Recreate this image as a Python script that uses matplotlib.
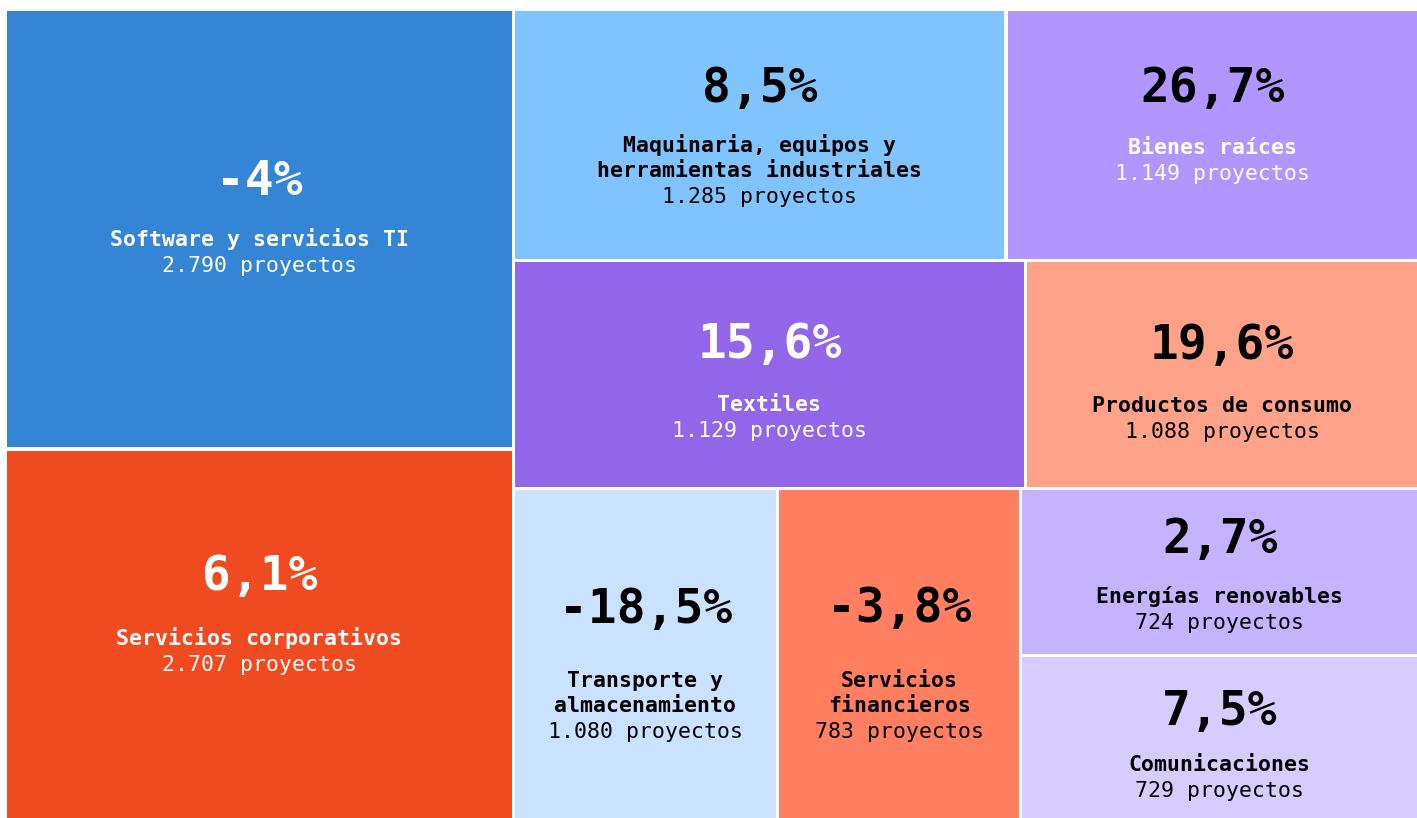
import matplotlib
matplotlib.use('Agg')
import matplotlib.pyplot as plt
from matplotlib.patches import Rectangle

# datos del treemap
sectores = ["Software y servicios TI", "Servicios corporativos",
            "Maquinaria, equipos y\nherramientas industriales", "Bienes raíces",
            "Textiles", "Productos de consumo",
            "Transporte y\nalmacenamiento", "Servicios\nfinancieros",
            "Energías renovables", "Comunicaciones"]
proyectos = [2790, 2707, 1285, 1149, 1129, 1088, 1080, 783, 724, 729]
variacion = ["-4%", "6,1%", "8,5%", "26,7%", "15,6%", "19,6%",
             "-18,5%", "-3,8%", "2,7%", "7,5%"]
peso = [222, 187, 123, 103, 116, 89, 87, 80, 66, 65]   # area of each tile

colores = ["#3585d6", "#f04b20", "#80c4ff", "#b196ff", "#9166e8",
           "#ffa28a", "#c8e2ff", "#ff7f60", "#c5b3ff", "#d8ccff"]
color_pct = ["white", "white", "black", "black", "white",
             "black", "black", "black", "black", "black"]
color_txt = ["white", "white", "black", "white", "white",
             "black", "black", "black", "black", "black"]
# vertical text offsets (px from tile centre) for the big number and the label
ajuste_pct = [-34.5, -44.5, -32.5, -32.5, -16.5, -15.5, -31, -32, -18.5, -12.5]
ajuste_txt = [16.5, 10.5, 17.5, 19.5, 36.5, 37.5, 33, 33, 31.5, 33.5]

# how the tiles are nested (columns / rows)
arbol = [[0, 1], [[2, 3], [4, 5], [6, 7, [8, 9]]]]

W, H = 1417, 818
GAP = 3.5
fig = plt.figure(figsize=(W / 100, H / 100), dpi=100)
ax = fig.add_axes([0, 0, 1, 1])
ax.set_xlim(0, W)
ax.set_ylim(H, 0)
ax.axis('off')

def peso_de(nodo):
    if isinstance(nodo, int):
        return peso[nodo]
    return sum(peso_de(n) for n in nodo)

rects = {}

def dividir(nodo, x0, y0, x1, y1, horizontal):
    if isinstance(nodo, int):
        rects[nodo] = (x0, y0, x1, y1)
        return
    total = peso_de(nodo)
    pos = x0 if horizontal else y0
    for hijo in nodo:
        f = peso_de(hijo) / total
        if horizontal:
            paso = (x1 - x0) * f
            dividir(hijo, pos, y0, pos + paso, y1, False)
        else:
            paso = (y1 - y0) * f
            dividir(hijo, x0, pos, x1, pos + paso, True)
        pos += paso

dividir(arbol, 7 - GAP / 2, 11 - GAP / 2, W + GAP / 2, H + GAP / 2, True)

mono = 'DejaVu Sans Mono'
for i in range(len(sectores)):
    x0, y0, x1, y1 = rects[i]
    ax.add_patch(Rectangle((x0 + GAP / 2, y0 + GAP / 2), x1 - x0 - GAP, y1 - y0 - GAP,
                           facecolor=colores[i], edgecolor='none'))
    cx = (x0 + x1) / 2
    cy = (y0 + y1) / 2
    ax.text(cx, cy + ajuste_pct[i], variacion[i], ha='center', va='baseline',
            fontsize=34.5, fontweight='bold', family=mono, color=color_pct[i])
    yy = cy + ajuste_txt[i]
    for linea in sectores[i].split("\n"):
        ax.text(cx, yy, linea, ha='center', va='baseline', fontsize=15.5,
                fontweight='bold', family=mono, color=color_txt[i])
        yy += 25
    n = f"{proyectos[i]:,}".replace(",", ".")
    ax.text(cx, yy + 1, n + " proyectos", ha='center', va='baseline', fontsize=15.5,
            family=mono, color=color_txt[i])

plt.savefig('out.png', dpi=100)
